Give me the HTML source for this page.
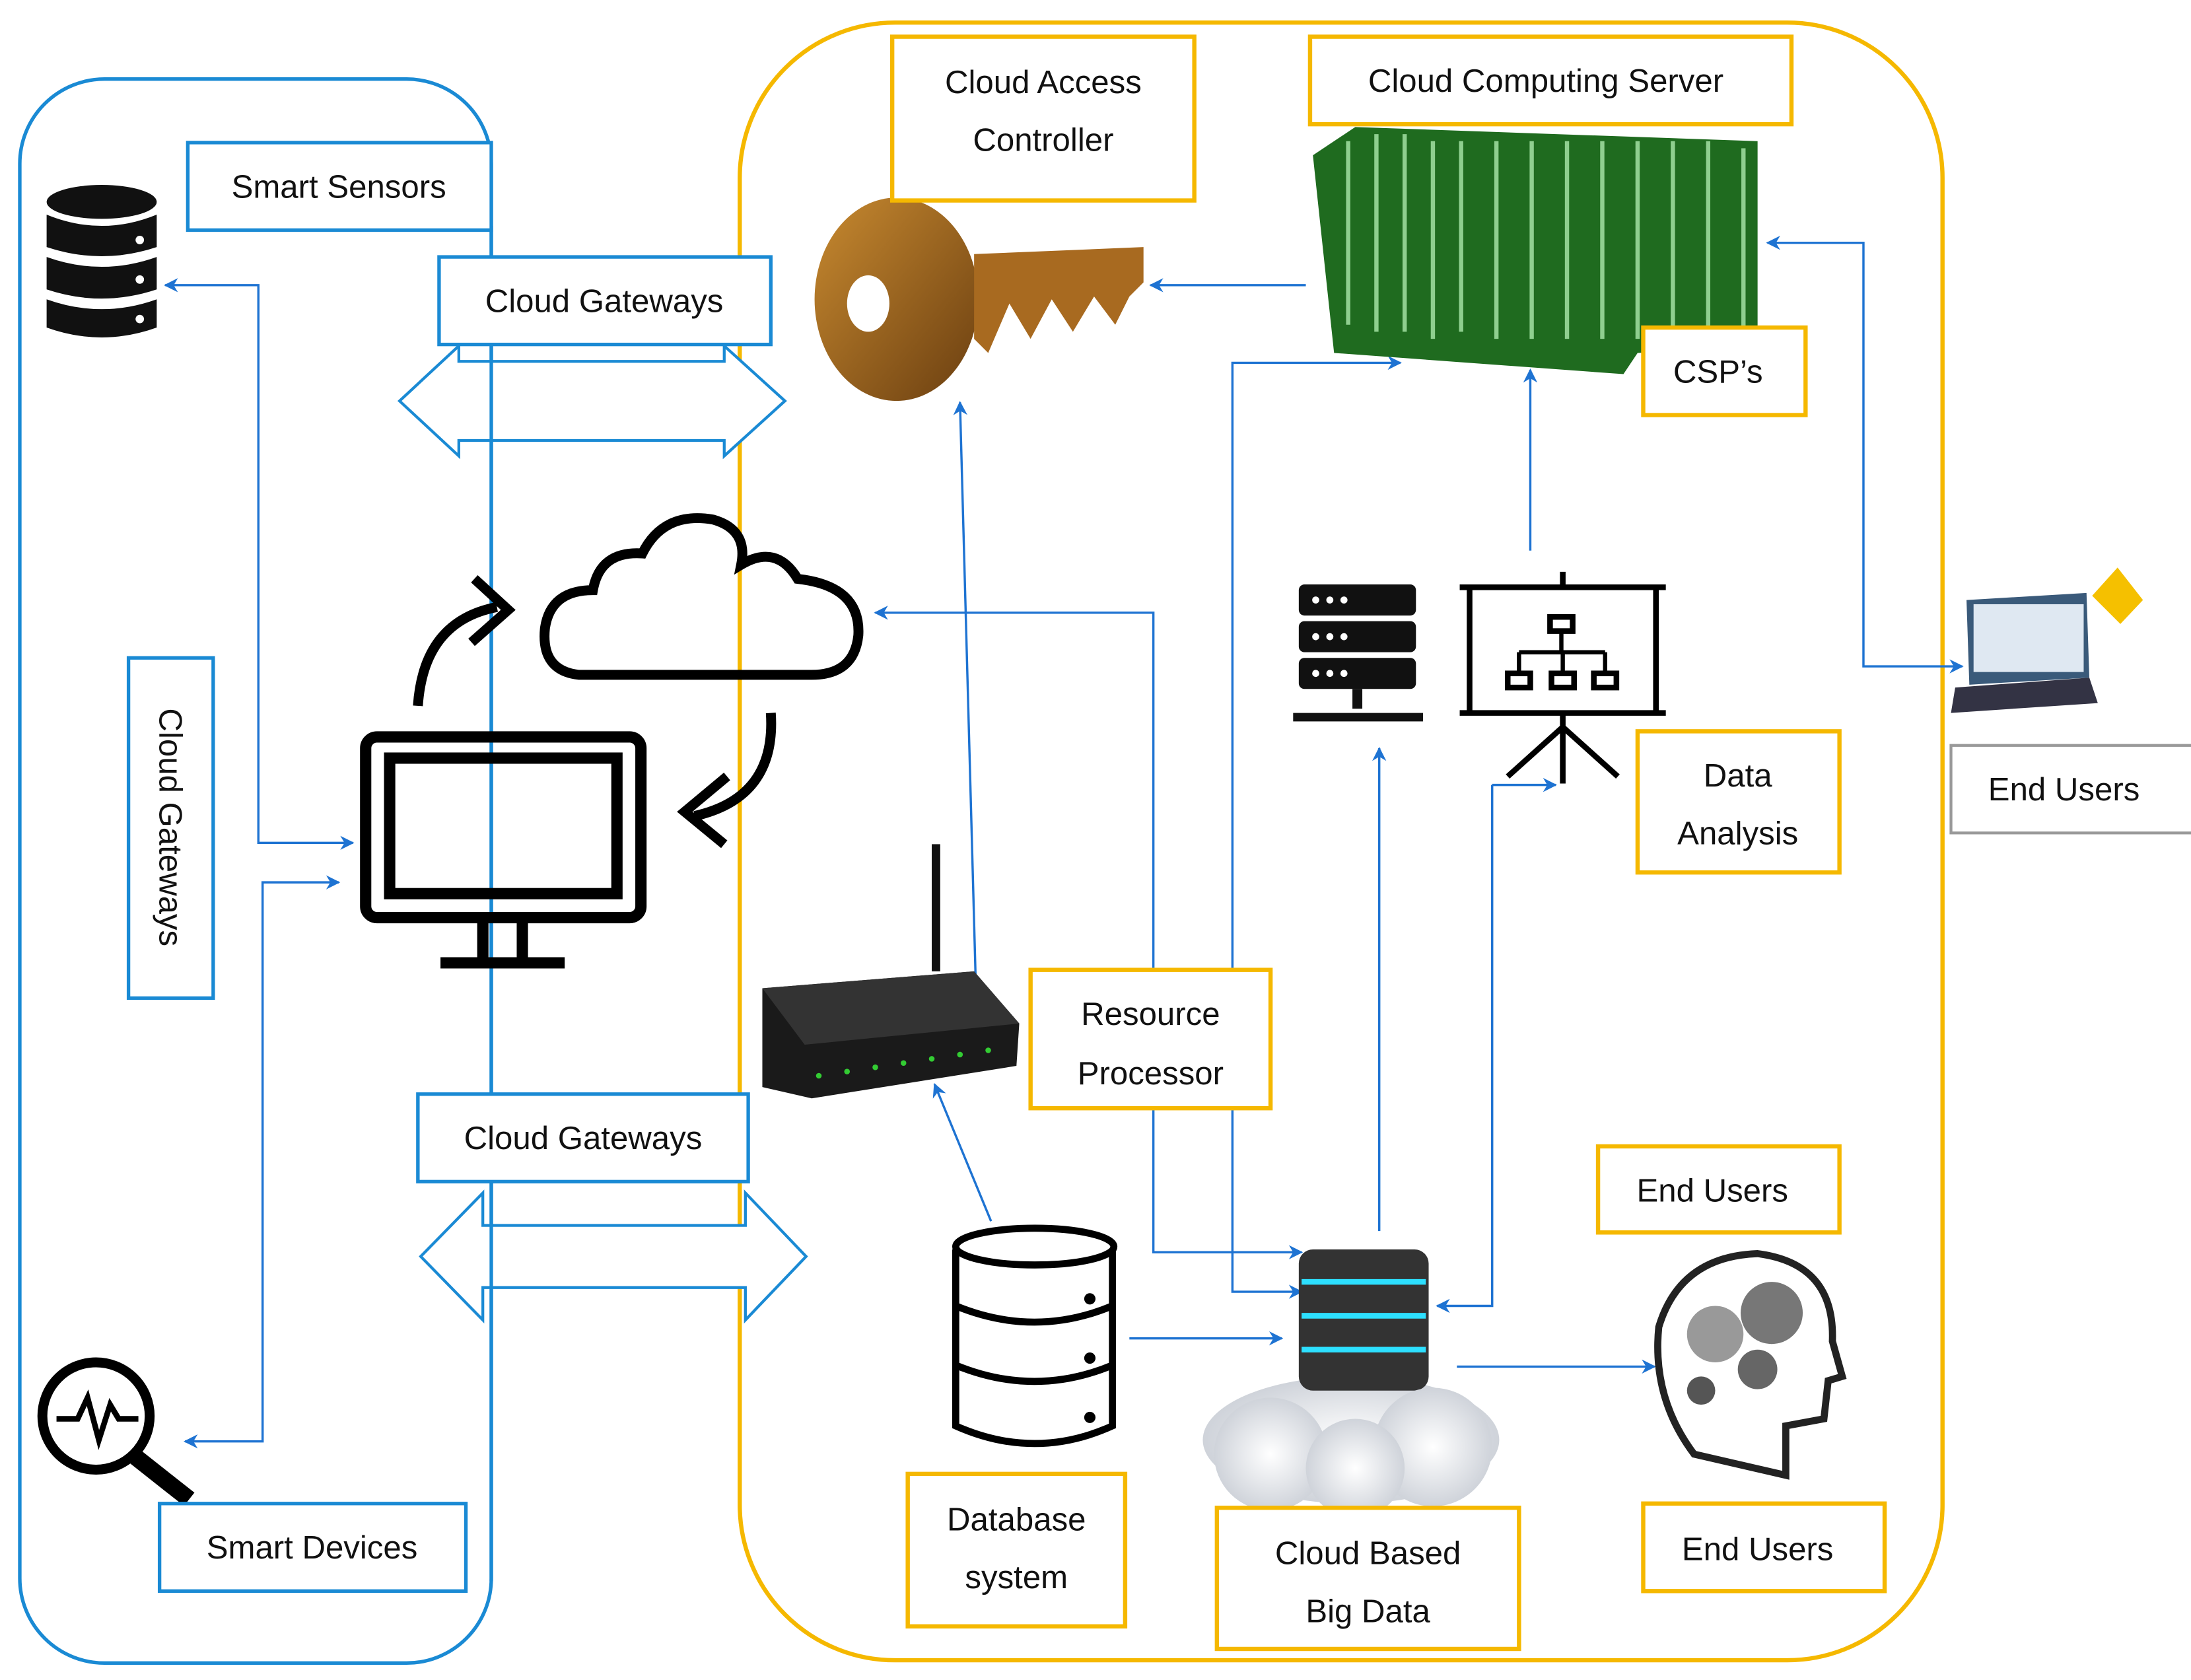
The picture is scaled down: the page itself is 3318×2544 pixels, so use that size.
<!DOCTYPE html>
<html><head><meta charset="utf-8"><style>
html,body{margin:0;padding:0;background:#fff;}
svg{display:block;}
text{font-family:"Liberation Sans",sans-serif;font-size:23px;fill:#111;}
</style></head><body>
<svg width="3318" height="2544" viewBox="0 0 1552 1190" xmlns="http://www.w3.org/2000/svg">
<defs>
<marker id="a" markerWidth="10" markerHeight="10" refX="9" refY="5" orient="auto" markerUnits="userSpaceOnUse"><path d="M0,0 L10,5 L0,10 L3,5 Z" fill="#1e73d2"/></marker>
<marker id="s" markerWidth="10" markerHeight="10" refX="1" refY="5" orient="auto" markerUnits="userSpaceOnUse"><path d="M10,0 L0,5 L10,10 L7,5 Z" fill="#1e73d2"/></marker>
<linearGradient id="key" x1="0" y1="0" x2="1" y2="1"><stop offset="0" stop-color="#c88a30"/><stop offset="1" stop-color="#6a3e10"/></linearGradient>
<radialGradient id="cl"><stop offset="0" stop-color="#fff"/><stop offset="1" stop-color="#cfd3da"/></radialGradient>
</defs>
<rect width="1552" height="1190" fill="#fff"/>
<rect x="14" y="56" width="334" height="1122" rx="60" fill="none" stroke="#1a8ad4" stroke-width="2.5"/>
<rect x="524" y="16" width="852" height="1160" rx="110" fill="none" stroke="#f5b800" stroke-width="3"/>

<path d="M283,284 L325,245 L325,256 L513,256 L513,245 L556,284 L513,323 L513,312 L325,312 L325,323 Z" fill="#fff" stroke="#1a8ad4" stroke-width="2"/>
<path d="M298,890 L342,845 L342,868 L528,868 L528,845 L571,890 L528,935 L528,912 L342,912 L342,935 Z" fill="#fff" stroke="#1a8ad4" stroke-width="2"/>
<line x1="348" y1="160" x2="348" y2="1120" stroke="#1a8ad4" stroke-width="2.5"/>

<g fill="none" stroke="#1e73d2" stroke-width="1.6">
<path d="M117,202 H183 V597 H250" marker-start="url(#s)" marker-end="url(#a)"/>
<path d="M240,625 H186 V1021 H131" marker-start="url(#s)" marker-end="url(#a)"/>
<path d="M925,202 H815" marker-end="url(#a)"/>
<path d="M691,690 L680,285" marker-end="url(#a)"/>
<path d="M817,687 V434 H620" marker-end="url(#a)"/>
<path d="M817,785 V887 H922" marker-end="url(#a)"/>
<path d="M873,687 V257 H992" marker-end="url(#a)"/>
<path d="M873,785 V915 H922" marker-end="url(#a)"/>
<path d="M1084,390 V262" marker-end="url(#a)"/>
<path d="M977,872 V530" marker-end="url(#a)"/>
<path d="M1057,556 H1102" marker-end="url(#a)"/>
<path d="M1057,556 V925 H1018" marker-end="url(#a)"/>
<path d="M800,948 H908" marker-end="url(#a)"/>
<path d="M1032,968 H1172" marker-end="url(#a)"/>
<path d="M702,865 L662,768" marker-end="url(#a)"/>
<path d="M1252,172 H1320 V472 H1390" marker-start="url(#s)" marker-end="url(#a)"/>
</g>

<g fill="#111">
<ellipse cx="72" cy="143" rx="39" ry="12"/>
<path d="M33,152 Q72,168 111,152 V175 Q72,188 33,175Z"/>
<path d="M33,182 Q72,196 111,182 V205 Q72,218 33,205Z"/>
<path d="M33,212 Q72,226 111,212 V232 Q72,246 33,232Z"/>
</g>
<g fill="#fff"><circle cx="99" cy="170" r="3"/><circle cx="99" cy="198" r="3"/><circle cx="99" cy="226" r="3"/></g>
<g fill="none" stroke="#000" stroke-width="8">
<rect x="259" y="522" width="195" height="128" rx="8"/>
<rect x="276" y="537" width="161" height="96"/>
<path d="M342,650 V680 M370,650 V680 M312,682 H400"/>
<path d="M296,500 Q300,440 352,430" stroke-width="7"/>
<path d="M546,505 Q550,565 492,578" stroke-width="7"/>
</g>
<path d="M336,410 L360,432 L334,455" fill="none" stroke="#000" stroke-width="7"/>
<path d="M515,550 L485,575 L513,598" fill="none" stroke="#000" stroke-width="7"/>
<path d="M410,478 Q383,475 386,445 Q390,418 420,418 Q425,390 455,392 Q470,362 505,368 Q530,375 525,400 Q550,385 565,410 Q610,415 608,450 Q605,478 575,478 Z" fill="none" stroke="#000" stroke-width="7"/>
<ellipse cx="635" cy="212" rx="58" ry="72" fill="url(#key)"/>
<ellipse cx="615" cy="215" rx="15" ry="20" fill="#fff"/>
<path d="M690,180 L810,175 L810,200 L800,210 L790,230 L775,210 L760,235 L745,212 L730,240 L715,215 L700,250 L690,240Z" fill="#a86a20"/>
<g fill="#1f6b1f">
<path d="M930,110 L960,90 L1245,100 L1245,245 L1160,250 L1150,265 L945,250 Z"/>
</g>
<g stroke="#8fcf8f" stroke-width="3">
<path d="M955,100 V230 M975,95 V235 M995,95 V235 M1015,100 V240 M1035,100 V235 M1060,100 V240 M1085,100 V240 M1110,100 V240 M1135,100 V240 M1160,100 V240 M1185,100 V240 M1210,100 V240 M1235,105 V240"/>
</g>
<g fill="#111">
<rect x="920" y="414" width="83" height="22" rx="4"/><rect x="920" y="440" width="83" height="22" rx="4"/><rect x="920" y="466" width="83" height="22" rx="4"/>
<rect x="958" y="488" width="7" height="14"/><rect x="916" y="505" width="92" height="6"/>
</g>
<g fill="#fff"><circle cx="932" cy="425" r="2.5"/><circle cx="942" cy="425" r="2.5"/><circle cx="952" cy="425" r="2.5"/><circle cx="932" cy="451" r="2.5"/><circle cx="942" cy="451" r="2.5"/><circle cx="952" cy="451" r="2.5"/><circle cx="932" cy="477" r="2.5"/><circle cx="942" cy="477" r="2.5"/><circle cx="952" cy="477" r="2.5"/></g>
<g fill="none" stroke="#000" stroke-width="4">
<path d="M1034,416 H1180 M1041,416 V505 H1173 V416 M1034,505 H1180 M1107,405 V416 M1107,505 V555 M1107,515 L1068,550 M1107,515 L1146,550"/>
<rect x="1098" y="437" width="16" height="10"/><rect x="1068" y="477" width="16" height="10"/><rect x="1099" y="477" width="16" height="10"/><rect x="1129" y="477" width="16" height="10"/>
<path d="M1106,447 V462 M1076,462 H1137 M1076,462 V477 M1107,462 V477 M1137,462 V477" stroke-width="3"/>
</g>
<path d="M540,700 L690,688 L722,725 L720,755 L575,778 L540,770 Z" fill="#1a1a1a"/>
<path d="M540,700 L690,688 L722,725 L570,740 Z" fill="#333"/>
<line x1="663" y1="598" x2="663" y2="688" stroke="#111" stroke-width="6"/>
<g fill="#3c3"><circle cx="580" cy="762" r="2"/><circle cx="600" cy="759" r="2"/><circle cx="620" cy="756" r="2"/><circle cx="640" cy="753" r="2"/><circle cx="660" cy="750" r="2"/><circle cx="680" cy="747" r="2"/><circle cx="700" cy="744" r="2"/></g>
<g fill="#fff" stroke="#000" stroke-width="5">
<path d="M677,885 V1010 Q733,1035 788,1010 V885"/>
<ellipse cx="733" cy="883" rx="56" ry="13"/>
<path d="M677,925 Q733,948 788,925 M677,967 Q733,990 788,967" fill="none"/>
</g>
<g fill="#000"><circle cx="772" cy="920" r="4"/><circle cx="772" cy="962" r="4"/><circle cx="772" cy="1004" r="4"/></g>
<ellipse cx="957" cy="1020" rx="105" ry="45" fill="url(#cl)"/>
<rect x="920" y="885" width="92" height="100" rx="10" fill="#333"/>
<g stroke="#2de0ff" stroke-width="4"><line x1="922" y1="908" x2="1010" y2="908"/><line x1="922" y1="932" x2="1010" y2="932"/><line x1="922" y1="956" x2="1010" y2="956"/></g>
<circle cx="900" cy="1030" r="40" fill="url(#cl)"/><circle cx="1015" cy="1025" r="42" fill="url(#cl)"/><circle cx="960" cy="1040" r="35" fill="url(#cl)"/>
<path d="M1200,1030 Q1170,990 1175,940 Q1190,890 1245,888 Q1300,895 1298,950 L1305,975 L1295,978 L1292,1005 L1265,1010 L1265,1045 Z" fill="none" stroke="#222" stroke-width="5"/>
<circle cx="1215" cy="945" r="20" fill="#999"/><circle cx="1255" cy="930" r="22" fill="#777"/><circle cx="1245" cy="970" r="14" fill="#666"/><circle cx="1205" cy="985" r="10" fill="#555"/>
<path d="M1393,425 L1478,420 L1480,480 L1395,485 Z" fill="#3a5a7a"/>
<rect x="1398" y="428" width="78" height="48" fill="#dfe8f2"/>
<path d="M1385,487 L1480,480 L1486,498 L1382,505 Z" fill="#334"/>
<path d="M1482,422 L1500,402 L1518,425 L1502,442 Z" fill="#f5c000"/>
<circle cx="68" cy="1003" r="38" fill="none" stroke="#000" stroke-width="7"/>
<path d="M40,1005 H55 L62,990 L70,1020 L78,995 L84,1005 H98" fill="none" stroke="#000" stroke-width="4"/>
<path d="M96,1032 L134,1062" stroke="#000" stroke-width="12"/>

<g fill="#fff" stroke="#1a8ad4" stroke-width="2.5">
<rect x="133" y="101" width="215" height="62"/>
<rect x="311" y="182" width="235" height="62"/>
<rect x="91" y="466" width="60" height="241"/>
<rect x="296" y="775" width="234" height="62"/>
<rect x="113" y="1065" width="217" height="62"/>
</g>
<g fill="#fff" stroke="#f5b800" stroke-width="3">
<rect x="632" y="26" width="214" height="116"/>
<rect x="928" y="26" width="341" height="62"/>
<rect x="1164" y="232" width="115" height="62"/>
<rect x="1160" y="518" width="143" height="100"/>
<rect x="730" y="687" width="170" height="98"/>
<rect x="1132" y="812" width="171" height="61"/>
<rect x="643" y="1044" width="154" height="108"/>
<rect x="862" y="1068" width="214" height="100"/>
<rect x="1164" y="1065" width="171" height="62"/>
</g>
<rect x="1382" y="528" width="172" height="62" fill="#fff" stroke="#999" stroke-width="2"/>

<g text-anchor="middle">
<text x="240" y="140">Smart Sensors</text>
<text x="428" y="221">Cloud Gateways</text>
<text x="413" y="814">Cloud Gateways</text>
<text x="221" y="1104">Smart Devices</text>
<text transform="translate(113,586) rotate(90)">Cloud Gateways</text>
<text x="739" y="66">Cloud Access</text>
<text x="739" y="107">Controller</text>
<text x="1095" y="65">Cloud Computing Server</text>
<text x="1217" y="271">CSP’s</text>
<text x="1231" y="557">Data</text>
<text x="1231" y="598">Analysis</text>
<text x="815" y="726">Resource</text>
<text x="815" y="768">Processor</text>
<text x="1213" y="851">End Users</text>
<text x="720" y="1084">Database</text>
<text x="720" y="1125">system</text>
<text x="969" y="1108">Cloud Based</text>
<text x="969" y="1149">Big Data</text>
<text x="1245" y="1105">End Users</text>
<text x="1462" y="567">End Users</text>
</g>
</svg>
</body></html>
